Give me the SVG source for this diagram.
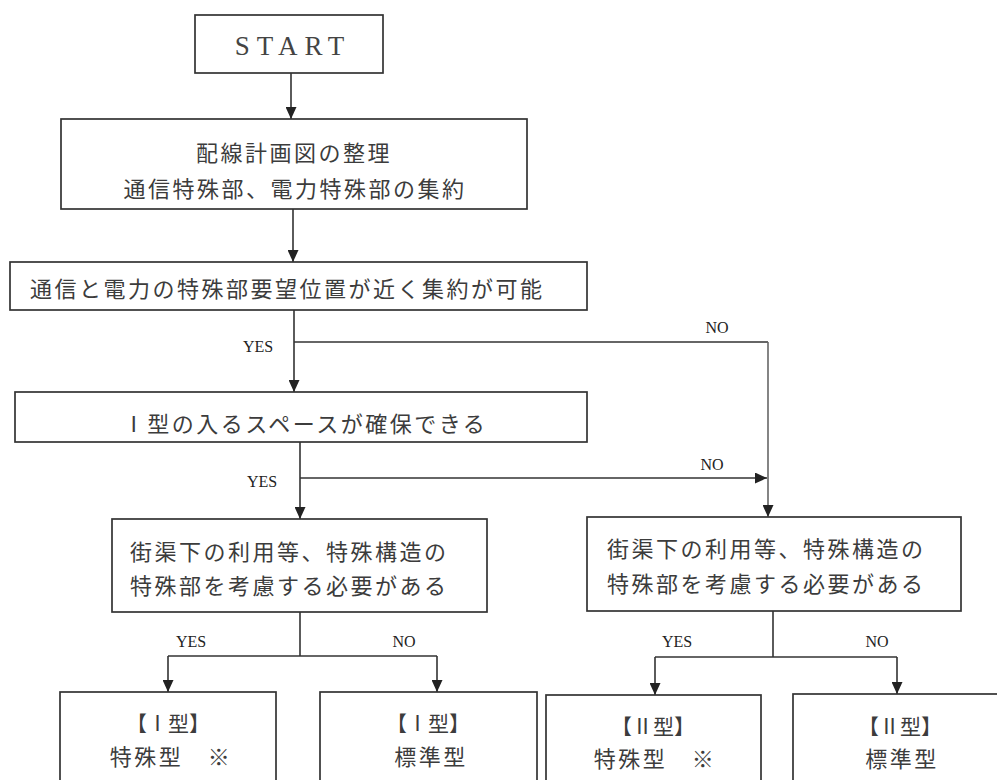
<svg xmlns="http://www.w3.org/2000/svg" width="997" height="780" viewBox="0 0 997 780">
<defs>
<style>
.box{fill:#fff;stroke:#333;stroke-width:1.7}
.jp{font-family:"Noto Sans CJK JP","Noto Sans",sans-serif;font-size:22px;letter-spacing:2.5px;fill:#3c3c3c;dominant-baseline:central}
.br{font-family:"Noto Sans CJK JP","Noto Sans",sans-serif;font-size:21px;fill:#3c3c3c;dominant-baseline:central}
.lbl{font-family:"Liberation Serif","Times New Roman",serif;font-size:16px;fill:#222;text-anchor:middle}
.c{fill:none;stroke:#333;stroke-width:1.6}
.mid{text-anchor:middle}
</style>
<marker id="ah" markerUnits="userSpaceOnUse" markerWidth="12" markerHeight="11" refX="12" refY="5.5" orient="auto">
<path d="M0,0 L12,5.5 L0,11 z" fill="#222"/>
</marker>
</defs>
<rect width="997" height="780" fill="#fff"/>

<g id="connectors">
<line class="c" x1="291" y1="73" x2="291" y2="119" marker-end="url(#ah)"/>
<line class="c" x1="293" y1="209" x2="293" y2="262" marker-end="url(#ah)"/>
<line class="c" x1="294" y1="310" x2="294" y2="392" marker-end="url(#ah)"/>
<polyline class="c" points="294,342 768,342"/>
<line class="c" x1="768" y1="342" x2="768" y2="517" style="stroke:#666" marker-end="url(#ah)"/>
<line class="c" x1="300" y1="442" x2="300" y2="519" marker-end="url(#ah)"/>
<line class="c" x1="300" y1="478" x2="767" y2="478" marker-end="url(#ah)"/>
<line class="c" x1="300" y1="612" x2="300" y2="656"/>
<line class="c" x1="168" y1="656" x2="437" y2="656"/>
<line class="c" x1="168" y1="656" x2="168" y2="692" marker-end="url(#ah)"/>
<line class="c" x1="437" y1="656" x2="437" y2="692" marker-end="url(#ah)"/>
<line class="c" x1="773" y1="611" x2="773" y2="657"/>
<line class="c" x1="655" y1="657" x2="897" y2="657"/>
<line class="c" x1="655" y1="657" x2="655" y2="695" marker-end="url(#ah)"/>
<line class="c" x1="897" y1="657" x2="897" y2="694" marker-end="url(#ah)"/>
<text class="lbl" x="258" y="352">YES</text>
<text class="lbl" x="717" y="333">NO</text>
<text class="lbl" x="262" y="487">YES</text>
<text class="lbl" x="712" y="470">NO</text>
<text class="lbl" x="191" y="647">YES</text>
<text class="lbl" x="404" y="647">NO</text>
<text class="lbl" x="677" y="647">YES</text>
<text class="lbl" x="877" y="647">NO</text>
</g>

<g id="start">
<rect class="box" x="195" y="15" width="188" height="58"/>
<text x="293" y="55" text-anchor="middle" style="font-family:'Liberation Serif','Times New Roman',serif;font-size:27px;letter-spacing:7px;fill:#444">START</text>
</g>

<g id="organize">
<rect class="box" x="61" y="119" width="466" height="90"/>
<text class="jp mid" x="294" y="151">配線計画図の整理</text>
<text class="jp mid" x="295" y="187">通信特殊部、電力特殊部の集約</text>
</g>

<g id="q-consolidate">
<rect class="box" x="10" y="262" width="577" height="48"/>
<text class="jp" x="30" y="287">通信と電力の特殊部要望位置が近く集約が可能</text>
</g>

<g id="q-space">
<rect class="box" x="15" y="392" width="572" height="50"/>
<text class="jp mid" x="305" y="422">Ⅰ型の入るスペースが確保できる</text>
</g>

<g id="q-special-left">
<rect class="box" x="112" y="519" width="375" height="93"/>
<text class="jp" x="130" y="550">街渠下の利用等、特殊構造の</text>
<text class="jp" x="130" y="584">特殊部を考慮する必要がある</text>
</g>

<g id="q-special-right">
<rect class="box" x="587" y="517" width="374" height="94"/>
<text class="jp" x="607" y="547">街渠下の利用等、特殊構造の</text>
<text class="jp" x="607" y="582">特殊部を考慮する必要がある</text>
</g>

<g id="type1-special">
<rect class="box" x="60" y="692" width="216" height="110"/>
<text class="br mid" x="168" y="722">【Ⅰ型】</text>
<text class="jp mid" x="171" y="755">特殊型　※</text>
</g>

<g id="type1-standard">
<rect class="box" x="320" y="692" width="217" height="110"/>
<text class="br mid" x="428" y="722">【Ⅰ型】</text>
<text class="jp mid" x="431" y="755">標準型</text>
</g>

<g id="type2-special">
<rect class="box" x="546" y="695" width="215" height="110"/>
<text class="br mid" x="653" y="725">【Ⅱ型】</text>
<text class="jp mid" x="655" y="757">特殊型　※</text>
</g>

<g id="type2-standard">
<rect class="box" x="793" y="694" width="220" height="110"/>
<text class="br mid" x="900" y="725">【Ⅱ型】</text>
<text class="jp mid" x="902" y="757">標準型</text>
</g>
</svg>
